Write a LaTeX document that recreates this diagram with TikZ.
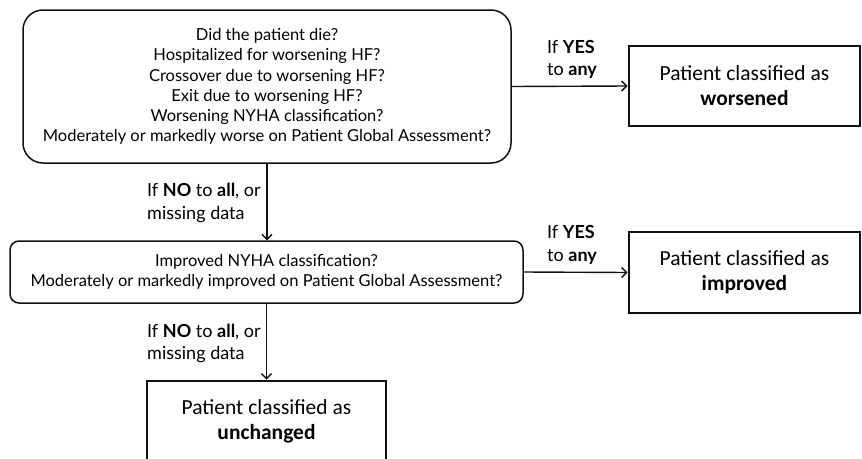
\documentclass[tikz,border=0pt]{standalone}
\usepackage{fontspec}
\setmainfont{Lato}
\newfontfamily\outcomefont{Carlito}
\usetikzlibrary{
  positioning,
  arrows.meta,
  calc
}
\definecolor{lineBlack}{HTML}{111111}
\tikzset{
  question/.style = {rectangle, rounded corners=20pt, draw=lineBlack,
                     line width=1.5pt, align=center, inner sep=0pt,
                     font=\fontsize{16.5}{20.3}\selectfont},
  outcome/.style  = {rectangle, draw=lineBlack, line width=2.8pt,
                     minimum width=231pt, minimum height=80pt,
                     align=center, inner sep=0pt,
                     font=\outcomefont\fontsize{21.5}{25}\selectfont},
  flow/.style     = {-{Straight Barb[length=5pt, width=10pt]},
                     line width=1.4pt, draw=lineBlack},
  rule/.style     = {inner sep=0pt, anchor=west, align=left,
                     font=\fontsize{18}{22.5}\selectfont}
}

\begin{document}
\begin{tikzpicture}[x=1pt, y=-1pt]
\useasboundingbox (0,0) rectangle (862,458);

% questions
\node[question, minimum width=488pt, minimum height=153pt] (qWorse) at (267,86.5)
  {Did the patient die?\\
   Hospitalized for worsening HF?\\
   Crossover due to worsening HF?\\
   Exit due to worsening HF?\\
   Worsening NYHA classification?\\
   Moderately or markedly worse on Patient Global Assessment?};
\node[question, rounded corners=9pt, minimum width=513pt, minimum height=62pt] (qImprove) at (266.5,272)
  {Improved NYHA classification?\\
   Moderately or markedly improved on Patient Global Assessment?};

% outcomes
\node[outcome] (worsened) at (744.5,86) {Patient classified as\\\textbf{worsened}};
\node[outcome, minimum height=81pt] (improved) at (744.5,272.5) {Patient classified as\\\textbf{improved}};
\node[outcome, minimum width=239pt] (unchanged) at (266.5,421) {Patient classified as\\\textbf{unchanged}};

% connectors
\draw[flow] (qWorse.east) -- (worsened.west);
\draw[flow] (qImprove.east) -- (improved.west);
\draw[flow] (qWorse.south) -- (qWorse.south |- qImprove.north);
\draw[flow] (qImprove.south -| unchanged.north) -- (unchanged.north);

% rules on the connectors
\node[rule] (yesWorse) at (547,59.5) {If \textbf{YES}\\to \textbf{any}};
\node[rule] (yesImprove) at (547,245) {If \textbf{YES}\\to \textbf{any}};
\node[rule] (noWorse) at (147,203) {If \textbf{NO} to \textbf{all}, or\\missing data};
\node[rule] (noImprove) at (147,343.5) {If \textbf{NO} to \textbf{all}, or\\missing data};
\end{tikzpicture}
\end{document}
